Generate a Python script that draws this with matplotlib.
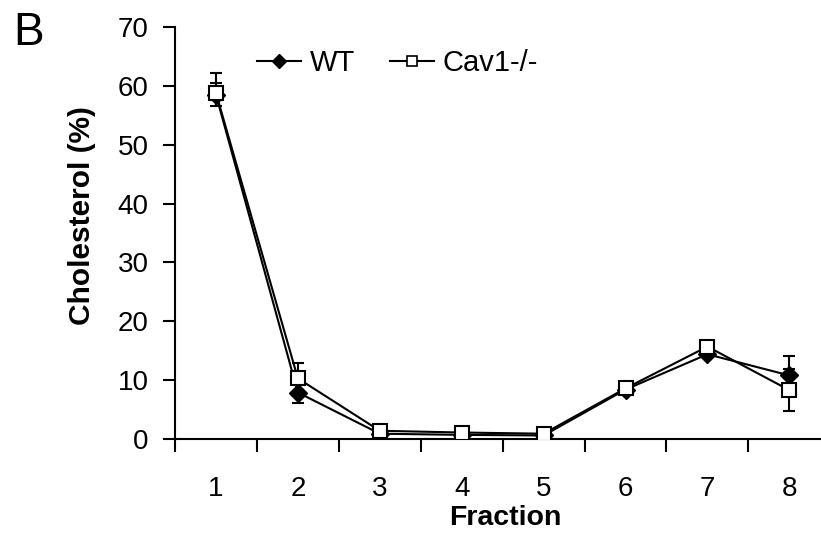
import matplotlib
matplotlib.use('Agg')
import matplotlib.pyplot as plt
from matplotlib.lines import Line2D

fractions = [1, 2, 3, 4, 5, 6, 7, 8]
wt = [58.5, 7.9, 0.9, 0.7, 0.6, 8.4, 14.4, 10.8]
wt_err_lo = [2.0, 1.7, 0.3, 0.2, 0.2, 0.5, 0.5, 3.3]
wt_err_hi = [2.0, 1.7, 0.3, 0.2, 0.2, 0.5, 0.5, 3.3]
cav = [58.8, 10.3, 1.4, 1.1, 0.9, 8.6, 15.7, 8.3]
cav_err_lo = [1.0, 2.6, 0.3, 0.2, 0.2, 0.5, 0.8, 3.6]
cav_err_hi = [3.3, 2.6, 0.3, 0.2, 0.2, 0.5, 0.8, 3.6]

plt.rcParams['font.family'] = ['Liberation Sans', 'DejaVu Sans']

fig = plt.figure(figsize=(8.21, 5.33), dpi=100)
ax = fig.add_axes([175 / 821, 94 / 533, 655.3 / 821, 412 / 533])

ax.errorbar(fractions, wt, yerr=[wt_err_lo, wt_err_hi], color='black',
            marker='D', markersize=9.5, mfc='black', mec='black', lw=1.5,
            elinewidth=1.5, capsize=4.5, capthick=1.5, zorder=3)
ax.errorbar(fractions, cav, yerr=[cav_err_lo, cav_err_hi], color='black',
            marker='s', markersize=9.5, mfc='white', mec='black', mew=1.5,
            lw=1.5, elinewidth=1.5, capsize=4.5, capthick=1.5, zorder=4)

ax.set_xlim(0.5, 8.5)
ax.set_ylim(0, 70)
ax.set_yticks(range(0, 71, 10))
ax.set_xticks([x + 0.5 for x in range(0, 8)])
ax.set_xticklabels([])
ax.set_xticks(fractions, minor=True)
ax.set_xticklabels([str(f) for f in fractions], minor=True)
ax.tick_params(axis='x', which='major', direction='out', length=9, width=1.5)
ax.tick_params(axis='x', which='minor', length=0, pad=27, labelsize=20)
ax.tick_params(axis='y', direction='out', length=9, width=1.5, labelsize=20, pad=10)

for s in ['top', 'right']:
    ax.spines[s].set_visible(False)
for s in ['left', 'bottom']:
    ax.spines[s].set_linewidth(1.5)

ax.set_xlabel('Fraction', fontsize=20.5, fontweight='bold')
ax.xaxis.set_label_coords(0.5036, -0.160)
ax.set_ylabel('Cholesterol (%)', fontsize=21.5, fontweight='bold')
ax.yaxis.set_label_coords(-0.121, 0.5425)

handles = [
    Line2D([], [], color='black', lw=1.5, marker='D', markersize=7,
           mfc='black', mec='black'),
    Line2D([], [], color='black', lw=1.5, marker='s', markersize=7,
           mfc='white', mec='black', mew=1.2),
]
ax.legend(handles, ['WT', 'Cav1-/-'], loc='center left',
          bbox_to_anchor=(257 / 821, 1 - 63 / 533),
          bbox_transform=fig.transFigure, ncol=2, frameon=False,
          fontsize=21, handlelength=1.5, handletextpad=0.3,
          columnspacing=1.2, borderpad=0, borderaxespad=0)

fig.text(13 / 821, 1 - 45 / 533, 'B', fontsize=33)

fig.savefig('out.png', dpi=100)
